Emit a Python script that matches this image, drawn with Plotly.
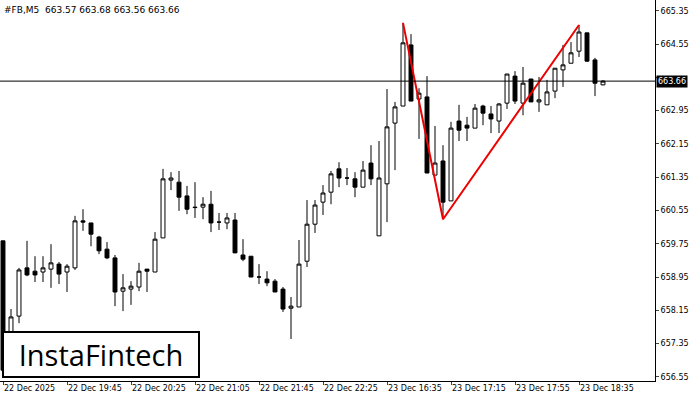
import plotly.graph_objects as go

# candle data, #FB M5
opens = [659.82, 657.39, 658.01, 659.17, 659.09, 659.07, 659.14, 659.26, 659.07, 659.17,
         660.30, 660.25, 659.91, 659.62, 659.41, 658.61, 658.66, 658.71, 659.14, 659.07,
         659.89, 661.28, 661.23, 660.90, 660.63, 660.63, 660.70, 660.27, 660.25, 660.32,
         659.48, 659.45, 658.95, 658.90, 658.85, 658.66, 658.20, 658.23, 659.33, 660.22,
         660.75, 660.99, 661.55, 661.33, 661.31, 661.11, 661.69, 659.94, 661.19, 662.65,
         663.06, 664.53, 663.23, 663.28, 661.40, 661.74, 660.78, 662.70, 662.60, 662.53,
         663.06, 662.87, 662.70, 663.13, 663.78, 663.13, 663.71, 663.16, 663.09, 663.42,
         663.93, 664.09, 664.38, 664.82, 664.17, 663.57]
highs = [659.82, 658.18, 659.17, 659.82, 659.45, 659.45, 659.74, 659.31, 659.26, 660.42,
         660.58, 660.25, 659.94, 659.79, 659.48, 659.02, 658.85, 659.29, 659.14, 660.03,
         661.55, 661.47, 661.50, 661.14, 661.23, 660.87, 661.02, 660.49, 660.49, 660.49,
         659.86, 659.45, 659.26, 659.09, 658.90, 658.71, 658.47, 659.84, 660.80, 660.80,
         661.16, 661.50, 661.71, 661.57, 661.47, 661.74, 662.12, 662.22, 663.47, 663.16,
         665.06, 664.79, 663.49, 663.78, 662.58, 662.12, 662.68, 663.09, 662.80, 663.11,
         663.09, 663.06, 663.13, 663.83, 663.90, 664.00, 663.71, 663.76, 663.69, 663.97,
         664.53, 664.60, 665.01, 664.82, 664.22, 663.68]
lows = [656.67, 657.19, 657.84, 658.97, 658.83, 658.83, 658.69, 658.78, 658.59, 659.12,
        660.06, 659.69, 659.50, 659.38, 658.25, 658.13, 658.28, 658.61, 658.59, 659.07,
        659.89, 661.04, 660.54, 660.46, 660.37, 660.34, 660.03, 660.08, 660.10, 659.53,
        659.33, 658.95, 658.78, 658.73, 658.59, 658.11, 657.46, 658.23, 659.19, 660.01,
        660.44, 660.70, 661.11, 661.16, 660.87, 661.11, 661.16, 659.94, 660.27, 661.52,
        663.06, 663.18, 662.27, 661.45, 661.40, 660.34, 660.78, 662.22, 662.22, 662.53,
        662.60, 662.41, 662.41, 662.99, 663.11, 662.84, 663.16, 662.92, 663.09, 663.25,
        663.52, 664.09, 664.24, 664.12, 663.30, 663.56]
closes = [656.71, 657.99, 659.12, 659.00, 659.00, 659.17, 659.29, 659.02, 659.21, 660.30,
          660.27, 659.98, 659.58, 659.41, 658.59, 658.69, 658.73, 659.09, 659.09, 659.86,
          661.31, 661.33, 660.87, 660.58, 660.62, 660.70, 660.25, 660.27, 660.37, 659.53,
          659.38, 658.95, 658.95, 658.81, 658.59, 658.18, 658.25, 659.26, 660.22, 660.68,
          660.97, 661.43, 661.33, 661.33, 661.11, 661.52, 661.31, 661.33, 662.56, 663.04,
          664.58, 663.18, 663.37, 661.45, 661.69, 660.75, 662.53, 662.48, 662.53, 663.01,
          662.89, 662.75, 663.11, 663.83, 663.18, 663.61, 663.16, 663.21, 663.40, 663.97,
          664.05, 664.34, 664.84, 664.14, 663.61, 663.66]

# double top pattern (candle index, price)
pattern_idx = [50, 55, 72]
pattern_price = [665.06, 660.34, 665.01]

last_price = 663.66
price_ticks = [665.35, 664.55, 663.75, 662.95, 662.15, 661.35, 660.55, 659.75, 658.95, 658.15, 657.35, 656.55]
time_tick_idx = [0, 8, 16, 24, 32, 40, 48, 56, 64, 72]
time_labels = ["22 Dec 2025", "22 Dec 19:45", "22 Dec 20:25", "22 Dec 21:05", "22 Dec 21:45",
               "22 Dec 22:25", "23 Dec 16:35", "23 Dec 17:15", "23 Dec 17:55", "23 Dec 18:35"]

idx = list(range(len(opens)))
font = "DejaVu Sans"

fig = go.Figure()
fig.add_trace(go.Candlestick(
    x=idx, open=opens, high=highs, low=lows, close=closes,
    increasing=dict(line=dict(color="black", width=1), fillcolor="white"),
    decreasing=dict(line=dict(color="black", width=1), fillcolor="black"),
    whiskerwidth=0, showlegend=False, hoverinfo="skip",
))
fig.add_trace(go.Scatter(x=pattern_idx, y=pattern_price, mode="lines",
                         line=dict(color="#ee0000", width=2), showlegend=False))

fig.add_hline(y=last_price, line=dict(color="black", width=1))
fig.add_annotation(x=1, xref="paper", y=last_price, yref="y", text=f"{last_price:.2f}",
                   xanchor="left", xshift=1, showarrow=False, bgcolor="black",
                   font=dict(color="white", size=8, family=font), borderpad=1)
fig.add_annotation(x=0, xref="paper", y=1, yref="paper", xanchor="left", yanchor="top",
                   xshift=2, yshift=-3, text="#FB,M5  663.57 663.68 663.56 663.66", showarrow=False,
                   font=dict(size=9, family=font, color="black"))
fig.add_annotation(x=0, xref="paper", y=0.008, yref="paper", xanchor="left", yanchor="bottom",
                   xshift=2, text="InstaFintech", showarrow=False, bgcolor="white",
                   bordercolor="black", borderwidth=2, borderpad=2, width=190,
                   font=dict(size=29, family="Open Sans", color="black"))
for i, lab in zip(time_tick_idx, time_labels):
    fig.add_annotation(x=i, xref="x", y=0, yref="paper", yanchor="top", xanchor="left",
                       xshift=-1, yshift=-1, text=lab, showarrow=False,
                       font=dict(size=8, family=font, color="black"))

fig.update_layout(
    width=700, height=400, margin=dict(l=0, r=45, t=0, b=19, autoexpand=False),
    paper_bgcolor="white", plot_bgcolor="white",
    font=dict(family=font, size=8, color="black"),
    xaxis=dict(range=[-0.375, 81.5], tickvals=time_tick_idx, showticklabels=False,
               showgrid=False, rangeslider=dict(visible=False), showline=True,
               linecolor="black", mirror=True, ticks="outside", ticklen=3, zeroline=False,
               automargin=False),
    yaxis=dict(range=[656.45, 665.61], side="right", tickvals=price_ticks,
               ticktext=["" if v == 663.75 else f"{v:.2f}" for v in price_ticks],
               showgrid=False, showline=True,
               linecolor="black", mirror=True, ticks="outside", ticklen=3, zeroline=False,
               automargin=False),
)
fig.write_html("out.html", config={"displayModeBar": False},
               post_script="document.body.style.margin='0';")
